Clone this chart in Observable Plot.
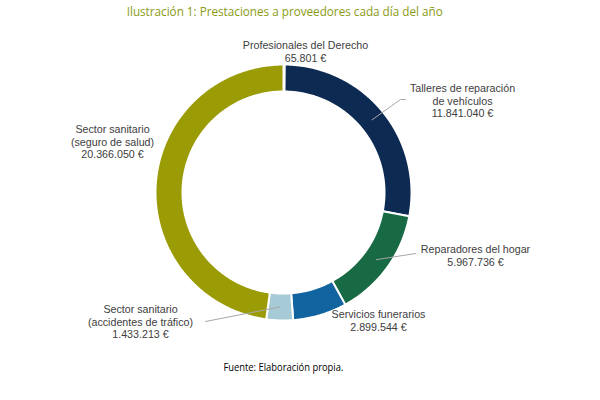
<!DOCTYPE html>
<html><head><meta charset="utf-8">
<script src="https://cdn.jsdelivr.net/npm/d3@7"></script>
<script src="https://cdn.jsdelivr.net/npm/@observablehq/plot@0.6"></script>
<style>
body{margin:0;background:#fff;width:600px;height:400px;overflow:hidden;}
#title{width:570px;height:24px;line-height:22px;text-align:center;font-family:"Open Sans",sans-serif;font-size:13px;color:#8a9a14;white-space:nowrap;}
#title span,#foot span{display:inline-block;transform-origin:center center;}
#foot{width:566px;height:40px;line-height:14px;text-align:center;font-family:"Open Sans",sans-serif;font-size:11px;color:#000;white-space:nowrap;}
</style></head><body>
<div id="title"><span id="t">Ilustración 1: Prestaciones a proveedores cada día del año</span></div>
<div id="chart"></div>
<div id="foot"><span id="f">Fuente: Elaboración propia.</span></div>
<script>
// ---- data ----
const categories = [
  "Profesionales del Derecho",
  "Talleres de reparación\nde vehículos",
  "Reparadores del hogar",
  "Servicios funerarios",
  "Sector sanitario\n(accidentes de tráfico)",
  "Sector sanitario\n(seguro de salud)"
];
const values = [65801, 11841040, 5967736, 2899544, 1433213, 20366050];
const colors = ["#0c2a52", "#0c2a52", "#186a45", "#11649f", "#a7cad7", "#9a9b05"];

// ---- layout (pixels relative to donut centre, y downward) ----
const labelPos = [[22,-141],[179,-92],[192,63],[95,128],[-143,129],[-171,-51]];
const leaderEnd = [null, [[117,-93],[122,-93]], [[132,61]], null, [[-78,129]], null];

const W = 600, H = 336, cx = 283, cy = 168, R = 128, r = 101;
const loc = d3.formatLocale({decimal: ",", thousands: ".", grouping: [3], currency: ["", " €"]});
const fmt = loc.format(",d");

const pie = d3.pie().sort(null).value(d => d)(values);
const slices = [];
pie.forEach((p, i) => {
  const n = Math.max(2, Math.ceil((p.endAngle - p.startAngle) / 0.01));
  for (let k = 0; k <= n; k++) {
    const a = p.startAngle + (p.endAngle - p.startAngle) * k / n;
    slices.push({name: categories[i], x: R * Math.sin(a), y: R * Math.cos(a)});
  }
  for (let k = n; k >= 0; k--) {
    const a = p.startAngle + (p.endAngle - p.startAngle) * k / n;
    slices.push({name: categories[i], x: r * Math.sin(a), y: r * Math.cos(a)});
  }
});

const labels = categories.map((c, i) => ({
  text: c + "\n" + fmt(values[i]) + " €",
  x: labelPos[i][0], y: -labelPos[i][1]
}));

const leaders = [];
pie.forEach((p, i) => {
  if (!leaderEnd[i]) return;
  const a = (p.startAngle + p.endAngle) / 2, rm = (R + r) / 2;
  leaders.push({id: i, x: rm * Math.sin(a), y: rm * Math.cos(a)});
  leaderEnd[i].forEach(([x, y]) => leaders.push({id: i, x, y: -y}));
});

const chart = Plot.plot({
  width: W, height: H, margin: 0,
  style: {background: "white", fontFamily: "'Liberation Sans', Arial, sans-serif"},
  x: {domain: [-cx, W - cx], axis: null},
  y: {domain: [-(H - cy), cy], axis: null},
  color: {domain: categories, range: colors},
  marks: [
    Plot.line(slices, {x: "x", y: "y", z: "name", fill: "name", stroke: "white", strokeWidth: 2, curve: "linear-closed"}),
    Plot.line(leaders, {x: "x", y: "y", z: "id", stroke: "#a6a6a6", strokeWidth: 1}),
    Plot.text(labels, {x: "x", y: "y", text: "text", fontSize: 10.7, lineHeight: 1.18, fill: "#404040", textAnchor: "middle"})
  ]
});
document.getElementById("chart").appendChild(chart);

function fit(id, w) {
  const el = document.getElementById(id);
  const cur = el.getBoundingClientRect().width;
  el.style.transform = `scaleX(${w / cur})`;
}
fit("t", 316);
fit("f", 120);
</script>
</body></html>
